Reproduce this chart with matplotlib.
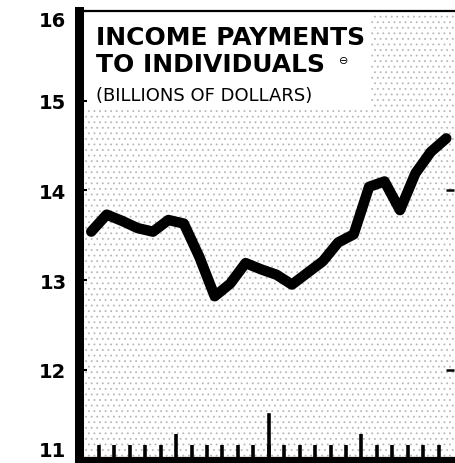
import matplotlib
matplotlib.use("Agg")
import matplotlib.pyplot as plt
from matplotlib.patches import Rectangle

# monthly values, billions of dollars (24 months)
months = list(range(24))
income = [13.54, 13.73, 13.66, 13.58, 13.54, 13.67, 13.63, 13.26,
          12.82, 12.96, 13.19, 13.12, 13.06, 12.95, 13.08, 13.21,
          13.42, 13.51, 14.04, 14.10, 13.78, 14.19, 14.43, 14.58]
yticks = [11, 12, 13, 14, 15, 16]
title_lines = ["INCOME PAYMENTS", "TO INDIVIDUALS"]
subtitle = "(BILLIONS OF DOLLARS)"

plt.rcParams["hatch.linewidth"] = 0.6
fig = plt.figure(figsize=(4.55, 4.64), dpi=100)
ax = fig.add_axes([83.5 / 455, 3.5 / 464, 370.5 / 455, 448.5 / 464])

# stippled background with a white box behind the title
ax.add_patch(Rectangle((0, 0), 1, 1, transform=ax.transAxes, facecolor="white",
                       edgecolor="#b8b8b8", hatch="...", linewidth=0, zorder=0))
ax.add_patch(Rectangle((0, 0.785), 0.775, 0.215, transform=ax.transAxes,
                       facecolor="white", edgecolor="none", zorder=0.5))

x = [m + 0.5 for m in months]
ax.plot(x, income, color="black", lw=7.5, solid_capstyle="round",
        solid_joinstyle="round", zorder=3)

ax.set_xlim(0, 24)
ax.set_ylim(11, 16)

ax.spines["right"].set_visible(False)
ax.spines["top"].set_linewidth(1.6)
ax.spines["bottom"].set_linewidth(4.5)
ax.spines["left"].set_linewidth(6.5)
ax.spines["left"].set_position(("outward", 3.2))

ax.set_yticks(yticks)
ax.set_yticklabels([str(v) for v in yticks], fontsize=14, fontweight="bold")
ax.tick_params(axis="y", direction="in", length=6, width=1.5, pad=9)
labels = ax.get_yticklabels()
labels[0].set_va("bottom")
labels[-1].set_va("top")

ax.set_xticks([6, 18])
ax.set_xticks(range(1, 24), minor=True)
ax.xaxis.set_ticklabels([])
ax.tick_params(axis="x", which="major", direction="in", length=19, width=2.6)
ax.tick_params(axis="x", which="minor", direction="in", length=11, width=2.6)
ax.axvline(12, ymin=0, ymax=0.1, color="black", lw=2.6, zorder=2)

rax = ax.secondary_yaxis("right")
rax.set_yticks([12, 14])
rax.set_yticklabels([])
rax.spines["right"].set_visible(False)
rax.tick_params(direction="in", length=6, width=1.8)

ax.text(0.035, 0.926, title_lines[0], transform=ax.transAxes, fontsize=18,
        fontweight="bold", va="baseline", ha="left")
ax.text(0.035, 0.866, title_lines[1], transform=ax.transAxes, fontsize=18,
        fontweight="bold", va="baseline", ha="left")
ax.text(0.69, 0.885, "\u2296", transform=ax.transAxes, fontsize=8,
        va="baseline", ha="left")
ax.text(0.035, 0.802, subtitle, transform=ax.transAxes, fontsize=13,
        va="baseline", ha="left")

fig.savefig("out.png", dpi=100)
